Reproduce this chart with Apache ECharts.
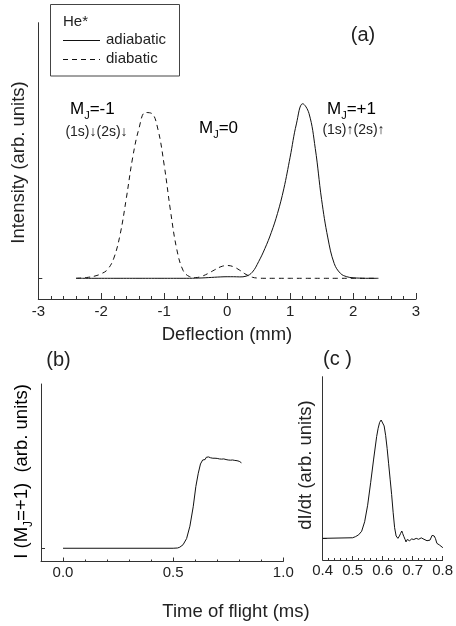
<!DOCTYPE html>
<html>
<head>
<meta charset="utf-8">
<title>He* deflection and time of flight</title>
<script src="https://cdn.jsdelivr.net/npm/echarts@6/dist/echarts.min.js"></script>
<style>
  html, body { margin: 0; padding: 0; background: #fff; }
  #chart { width: 456px; height: 626px; }
</style>
</head>
<body>
<div id="chart"></div>
<script>
// (a) deflection profiles, intensity normalised to the adiabatic M_J=+1 peak
var deflection = [-2.4, -2.3, -2.2, -2.1, -2.0, -1.9, -1.8, -1.7, -1.6, -1.5, -1.4, -1.3, -1.2, -1.1, -1.0,
  -0.9, -0.8, -0.7, -0.6, -0.5, -0.4, -0.3, -0.2, -0.1, 0.0, 0.1, 0.2, 0.3, 0.4, 0.5, 0.6, 0.7, 0.8, 0.9,
  1.0, 1.1, 1.2, 1.3, 1.4, 1.5, 1.6, 1.7, 1.8, 1.9, 2.0, 2.1, 2.2, 2.3, 2.4];
var adiabatic = [0, 0, 0, 0, 0, 0, 0, 0, 0, 0, 0, 0, 0, 0, 0,
  0, 0, 0, 0, 0.001, 0.002, 0.004, 0.006, 0.008, 0.009, 0.009, 0.008, 0.012, 0.035, 0.095, 0.17, 0.26, 0.37, 0.51,
  0.69, 0.88, 0.995, 0.94, 0.74, 0.45, 0.23, 0.085, 0.028, 0.009, 0.003, 0.001, 0, 0, 0];
var diabatic = [0, 0.002, 0.006, 0.013, 0.026, 0.05, 0.115, 0.25, 0.46, 0.69, 0.855, 0.945, 0.94, 0.85, 0.645,
  0.385, 0.165, 0.045, 0.01, 0.004, 0.012, 0.028, 0.048, 0.066, 0.073, 0.066, 0.046, 0.022, 0.006, 0.001, 0, 0, 0, 0,
  0, 0, 0, 0, 0, 0, 0, 0, 0, 0, 0, 0, 0, 0, 0];

// (b) M_J=+1 signal against time of flight (ms)
var tofB = [0.0, 0.50, 0.52, 0.53, 0.545, 0.561, 0.576, 0.591, 0.603, 0.614, 0.624, 0.634,
  0.64, 0.645, 0.65, 0.655, 0.66, 0.665, 0.67, 0.675, 0.68, 0.685, 0.69, 0.695, 0.70, 0.705, 0.71, 0.715,
  0.72, 0.725, 0.73, 0.735, 0.74, 0.745, 0.75, 0.755, 0.76, 0.765, 0.77, 0.775, 0.78, 0.785, 0.79, 0.795,
  0.80, 0.805, 0.81];
var signalB = [0, 0, 0.003, 0.012, 0.04, 0.11, 0.25, 0.47, 0.70, 0.85, 0.955, 1.0,
  1.01, 1.005, 1.03, 1.02, 1.035, 1.015, 1.025, 1.01, 1.02, 1.005, 1.02, 1.01, 1.018, 1.0, 1.012, 1.0,
  1.01, 1.003, 1.012, 0.998, 1.005, 0.993, 1.0, 0.99, 0.998, 0.988, 1.0, 0.99, 0.995, 0.982, 0.992, 1.0,
  0.985, 0.975, 0.968];

// (c) derivative dI/dt against time of flight (ms)
var tofC = [0.40, 0.50, 0.51, 0.52, 0.53, 0.54, 0.55, 0.56, 0.57, 0.58, 0.585, 0.59, 0.595, 0.60, 0.605,
  0.61, 0.615, 0.62, 0.625, 0.63, 0.635, 0.64, 0.645, 0.651, 0.656, 0.660, 0.664, 0.667, 0.671, 0.675,
  0.678, 0.682, 0.686, 0.690, 0.693, 0.697, 0.700, 0.704, 0.708, 0.712, 0.716, 0.720, 0.725, 0.729,
  0.733, 0.738, 0.743, 0.748, 0.754, 0.758, 0.762, 0.765, 0.768, 0.772, 0.776, 0.781, 0.786, 0.790,
  0.795, 0.801];
var derivC = [0, 0.005, 0.015, 0.03, 0.06, 0.14, 0.28, 0.47, 0.67, 0.86, 0.93, 0.98, 1.0, 0.985, 0.95,
  0.87, 0.76, 0.63, 0.50, 0.37, 0.22, 0.09, 0.02, 0.0, 0.02, 0.042, 0.062, 0.04, 0.014, -0.01,
  -0.03, -0.01, -0.006, -0.02, -0.023, -0.005, 0, -0.01, -0.014, 0.0, 0.005, -0.008, -0.006, 0.004,
  0, -0.008, -0.014, -0.02, -0.034, -0.015, 0, 0.025, 0.034, 0.02, 0, -0.042, -0.045, -0.057,
  -0.06, -0.079];

// Tick labels
var ticksA = [-3, -2, -1, 0, 1, 2, 3];
var ticksB = [0.0, 0.5, 1.0];
var minorTicksB = [0.1, 0.2, 0.3, 0.4, 0.6, 0.7, 0.8, 0.9];
var ticksC = [0.4, 0.5, 0.6, 0.7, 0.8];

function pairs(xs, ys) {
  return xs.map(function (x, i) { return [x, ys[i]]; });
}

var FONT = '"Liberation Sans", Arial, Helvetica, sans-serif';
var INK = '#222';
var AXIS = '#333';
var CURVE = '#111';

function yAxisBase(grid, min, max) {
  return {
    type: 'value', gridIndex: grid, min: min, max: max,
    axisLine: { show: true, onZero: false, lineStyle: { color: AXIS, width: 1 } },
    axisTick: { show: true, inside: true, length: 4, customValues: [0], lineStyle: { color: AXIS } },
    axisLabel: { show: false },
    splitLine: { show: false }
  };
}

var labelStyle = { color: INK, fontFamily: FONT };

// rich styles for "M" with a lowered, smaller "J"
function subRich(size, sub) {
  return {
    m: { fontSize: size, fontFamily: FONT, color: INK, lineHeight: size + 6 },
    j: { fontSize: sub, fontFamily: FONT, color: INK, verticalAlign: 'bottom', lineHeight: sub }
  };
}

var chart = echarts.init(document.getElementById('chart'), null, { renderer: 'canvas' });

chart.setOption({
  animation: false,
  backgroundColor: '#fff',
  textStyle: { fontFamily: FONT },
  grid: [
    { left: 38.3, top: 22.7, width: 377.7, height: 276.3 },
    { left: 41, top: 384, width: 242.3, height: 177.5 },
    { left: 322.7, top: 376.7, width: 123, height: 183.3 }
  ],
  xAxis: [
    {
      type: 'value', gridIndex: 0, min: -3, max: 3, interval: 1,
      axisLine: { onZero: false, lineStyle: { color: AXIS, width: 1 } },
      axisTick: { inside: true, length: 6, lineStyle: { color: AXIS } },
      minorTick: { show: true, splitNumber: 5, length: 3, lineStyle: { color: AXIS } },
      axisLabel: Object.assign({ fontSize: 15, margin: 5,
        customValues: ticksA, formatter: function (v) { return String(Math.round(v)); } }, labelStyle),
      splitLine: { show: false }
    },
    {
      type: 'value', gridIndex: 1, min: -0.1, max: 1.0, position: 'bottom',
      axisLine: { onZero: false, lineStyle: { color: AXIS, width: 1 } },
      axisTick: { inside: true, length: 4, customValues: ticksB, lineStyle: { color: AXIS } },
      axisLabel: Object.assign({ fontSize: 15, margin: 4, customValues: ticksB,
        formatter: function (v) { return v.toFixed(1); } }, labelStyle),
      splitLine: { show: false }
    },
    {
      type: 'value', gridIndex: 1, min: -0.1, max: 1.0, position: 'bottom',
      axisLine: { show: false, onZero: false },
      axisTick: { inside: true, length: 2, customValues: minorTicksB, lineStyle: { color: AXIS } },
      axisLabel: { show: false },
      splitLine: { show: false }
    },
    {
      type: 'value', gridIndex: 2, min: 0.4, max: 0.8, interval: 0.1,
      axisLine: { onZero: false, lineStyle: { color: AXIS, width: 1 } },
      axisTick: { inside: true, length: 4, lineStyle: { color: AXIS } },
      minorTick: { show: true, splitNumber: 5, length: 2, lineStyle: { color: AXIS } },
      axisLabel: Object.assign({ fontSize: 15, margin: 3, customValues: ticksC,
        formatter: function (v) { return v.toFixed(1); } }, labelStyle),
      splitLine: { show: false }
    }
  ],
  yAxis: [
    yAxisBase(0, -0.118, 1.457),
    yAxisBase(1, -0.15, 1.861),
    yAxisBase(2, -0.183, 1.366)
  ],
  series: [
    {
      name: 'adiabatic', type: 'line', xAxisIndex: 0, yAxisIndex: 0,
      data: pairs(deflection, adiabatic), smooth: 0.4, symbol: 'none',
      lineStyle: { color: CURVE, width: 1 }, itemStyle: { color: CURVE }, z: 3
    },
    {
      name: 'diabatic', type: 'line', xAxisIndex: 0, yAxisIndex: 0,
      data: pairs(deflection, diabatic), smooth: 0.4, symbol: 'none',
      lineStyle: { color: CURVE, width: 1, type: [5, 4] }, itemStyle: { color: CURVE }, z: 2
    },
    {
      name: 'I(MJ=+1)', type: 'line', xAxisIndex: 1, yAxisIndex: 1,
      data: pairs(tofB, signalB), symbol: 'none',
      lineStyle: { color: CURVE, width: 1 }
    },
    {
      name: 'dI/dt', type: 'line', xAxisIndex: 3, yAxisIndex: 2,
      data: pairs(tofC, derivC), symbol: 'none',
      lineStyle: { color: CURVE, width: 1 }
    }
  ],
  graphic: [
    // key box: heading, line samples and their names
    { type: 'rect', shape: { x: 50.5, y: 4.5, width: 129, height: 71.5 },
      style: { fill: 'none', stroke: '#444', lineWidth: 1 } },
    { type: 'text', x: 63, y: 22, style: { text: 'He*', fontSize: 15, fontFamily: FONT, fill: INK,
      align: 'left', verticalAlign: 'middle' } },
    { type: 'line', shape: { x1: 63, y1: 40.5, x2: 100, y2: 40.5 },
      style: { stroke: CURVE, lineWidth: 1 } },
    { type: 'text', x: 106, y: 40, style: { text: 'adiabatic', fontSize: 15, fontFamily: FONT, fill: INK,
      align: 'left', verticalAlign: 'middle' } },
    { type: 'line', shape: { x1: 63, y1: 59.5, x2: 100, y2: 59.5 },
      style: { stroke: CURVE, lineWidth: 1, lineDash: [5, 4] } },
    { type: 'text', x: 106, y: 59, style: { text: 'diabatic', fontSize: 15, fontFamily: FONT, fill: INK,
      align: 'left', verticalAlign: 'middle' } },
    // panel tags
    { type: 'text', x: 363, y: 35, style: { text: '(a)', fontSize: 20, fontFamily: FONT, fill: INK,
      align: 'center', verticalAlign: 'middle' } },
    { type: 'text', x: 58.5, y: 360.7, style: { text: '(b)', fontSize: 20, fontFamily: FONT, fill: INK,
      align: 'center', verticalAlign: 'middle' } },
    { type: 'text', x: 337.5, y: 359, style: { text: '(c )', fontSize: 20, fontFamily: FONT, fill: INK,
      align: 'center', verticalAlign: 'middle' } },
    // peak annotations
    { type: 'text', x: 70, y: 109.5, style: { text: '{m|M}{j|J}{m|=-1}', rich: subRich(17, 11),
      align: 'left', verticalAlign: 'middle' } },
    { type: 'text', x: 96.5, y: 131.7, style: { text: '(1s)\u2193(2s)\u2193', fontSize: 14, fontFamily: FONT, fill: INK,
      align: 'center', verticalAlign: 'middle' } },
    { type: 'text', x: 199, y: 128.8, style: { text: '{m|M}{j|J}{m|=0}', rich: subRich(17, 11),
      align: 'left', verticalAlign: 'middle' } },
    { type: 'text', x: 327, y: 109.5, style: { text: '{m|M}{j|J}{m|=+1}', rich: subRich(17, 11),
      align: 'left', verticalAlign: 'middle' } },
    { type: 'text', x: 353.5, y: 130, style: { text: '(1s)\u2191(2s)\u2191', fontSize: 14, fontFamily: FONT, fill: INK,
      align: 'center', verticalAlign: 'middle' } },
    // axis titles
    { type: 'text', x: 227, y: 335, style: { text: 'Deflection (mm)', fontSize: 18.5, fontFamily: FONT, fill: INK,
      align: 'center', verticalAlign: 'middle' } },
    { type: 'text', x: 236, y: 611.7, style: { text: 'Time of flight (ms)', fontSize: 18.5, fontFamily: FONT, fill: INK,
      align: 'center', verticalAlign: 'middle' } },
    { type: 'text', x: 18.5, y: 162.5, rotation: Math.PI / 2,
      style: { text: 'Intensity (arb. units)', fontSize: 18.5, fontFamily: FONT, fill: INK,
        align: 'center', verticalAlign: 'middle' } },
    { type: 'text', x: 22, y: 471.5, rotation: Math.PI / 2,
      style: { text: '{m|I (M}{j|J}{m|=+1)  (arb. units)}', rich: subRich(18.5, 12),
        align: 'center', verticalAlign: 'middle' } },
    { type: 'text', x: 306, y: 465, rotation: Math.PI / 2,
      style: { text: 'dI/dt (arb. units)', fontSize: 18.5, fontFamily: FONT, fill: INK,
        align: 'center', verticalAlign: 'middle' } }
  ]
});
</script>
</body>
</html>
